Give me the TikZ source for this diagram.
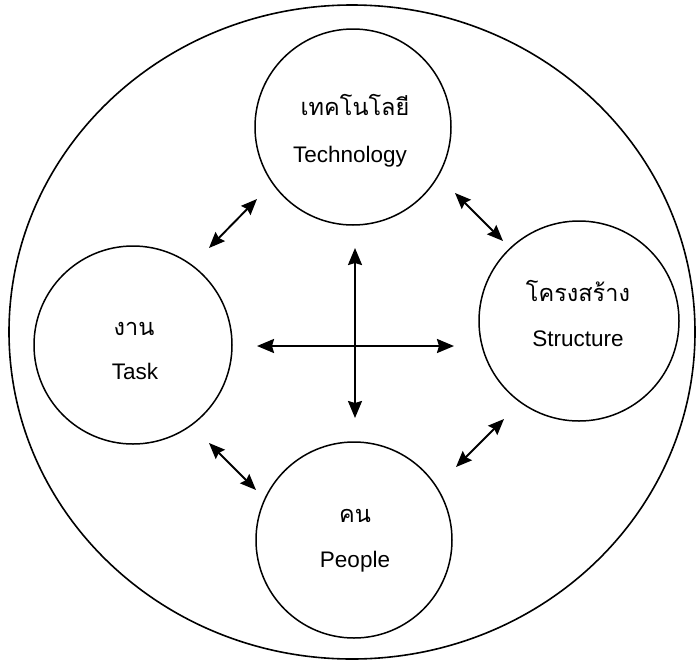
\documentclass[tikz,border=0pt]{standalone}
\usepackage{fontspec}
\setmainfont{Liberation Sans}
\newfontfamily\thaifont[Script=Thai]{Loma}
\usetikzlibrary{arrows.meta,shapes.geometric}

\tikzset{
  ring/.style={draw, line width=1.6pt, ellipse, inner sep=0pt},
  part/.style={draw, line width=1.5pt, circle, inner sep=0pt},
  thlabel/.style={anchor=base, inner sep=0pt, font=\thaifont\fontsize{23.5}{23.5}\selectfont},
  enlabel/.style={anchor=base, inner sep=0pt, font=\fontsize{22.5}{22.5}\selectfont},
  link/.style={line width=1.9pt, {Stealth[length=16pt,width=13pt,inset=2pt]}-{Stealth[length=16pt,width=13pt,inset=2pt]}},
  cross/.style={line width=2.2pt, {Stealth[length=17pt,width=14pt,inset=2pt]}-{Stealth[length=17pt,width=14pt,inset=2pt]}}
}

\begin{document}
\begin{tikzpicture}[x=1pt, y=-1pt]
  \useasboundingbox (0,0) rectangle (696,662);

  % enclosing boundary
  \node[ring, minimum width=686pt, minimum height=654pt] (outer) at (352,332) {};

  % the four components
  \node[part, minimum size=196pt] (tech)   at (353,127) {};
  \node[part, minimum size=198pt] (task)   at (133,345) {};
  \node[part, minimum size=200pt] (struct) at (579,321) {};
  \node[part, minimum size=196pt] (people) at (354,540) {};

  % labels
  \node[thlabel] (techTh)   at (355,115) {เทคโนโลยี};
  \node[enlabel] (techEn)   at (350,162) {Technology};
  \node[thlabel] (structTh) at (578,301) {โครงสร้าง};
  \node[enlabel] (structEn) at (578,346) {Structure};
  \node[thlabel] (taskTh)   at (134,335) {งาน};
  \node[enlabel] (taskEn)   at (135,379) {Task};
  \node[thlabel] (peopleTh) at (355,522) {คน};
  \node[enlabel] (peopleEn) at (355,567) {People};

  % arrow end points
  \coordinate (tl1) at (209,248); \coordinate (tl2) at (257,199);
  \coordinate (tr1) at (455,193); \coordinate (tr2) at (503,241);
  \coordinate (br1) at (504,419); \coordinate (br2) at (456,467);
  \coordinate (bl1) at (209,443); \coordinate (bl2) at (256,490);
  \coordinate (hl) at (257,346);  \coordinate (hr) at (454,346);
  \coordinate (vt) at (355,248);  \coordinate (vb) at (355,418);

  % mutual influences between neighbours
  \draw[link] (tl1) -- (tl2);
  \draw[link] (tr1) -- (tr2);
  \draw[link] (br1) -- (br2);
  \draw[link] (bl1) -- (bl2);

  % central cross
  \draw[cross] (hl) -- (hr);
  \draw[cross] (vt) -- (vb);
\end{tikzpicture}
\end{document}
